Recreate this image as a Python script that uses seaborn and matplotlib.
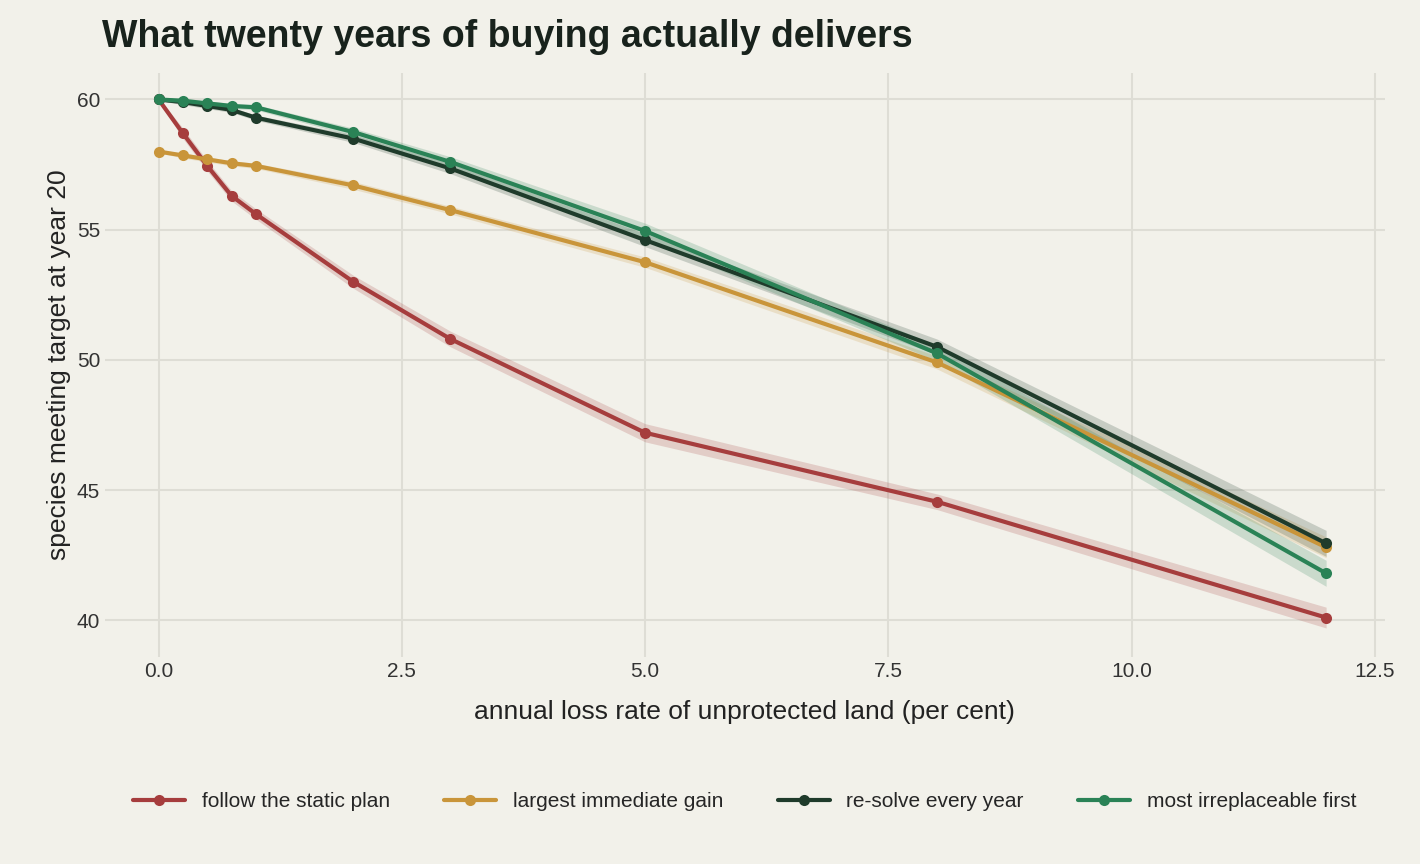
import numpy as np
import pandas as pd
import seaborn as sns
import matplotlib.pyplot as plt

# loss rates (per cent per year)
loss_rate = [0, 0.25, 0.5, 0.75, 1, 2, 3, 5, 8, 12]

static_plan = [60, 58.7, 57.45, 56.3, 55.6, 53.0, 50.8, 47.2, 44.55, 40.1]
greedy_gain = [58.0, 57.85, 57.7, 57.55, 57.45, 56.7, 55.75, 53.75, 49.9, 42.8]
resolve_yearly = [60, 59.9, 59.75, 59.6, 59.3, 58.5, 57.35, 54.6, 50.5, 42.95]
irreplaceable = [60, 59.95, 59.85, 59.75, 59.7, 58.75, 57.6, 54.95, 50.25, 41.8]

# uncertainty half-widths
static_band = [0.05, 0.2, 0.2, 0.2, 0.2, 0.25, 0.3, 0.35, 0.3, 0.4]
greedy_band = [0.05, 0.1, 0.1, 0.1, 0.1, 0.15, 0.15, 0.2, 0.25, 0.4]
resolve_band = [0.05, 0.1, 0.1, 0.1, 0.1, 0.15, 0.2, 0.25, 0.3, 0.5]
irrep_band = [0.05, 0.1, 0.1, 0.1, 0.1, 0.15, 0.2, 0.3, 0.3, 0.5]

labels = ['follow the static plan', 'largest immediate gain',
          're-solve every year', 'most irreplaceable first']
colors = ['#a63d3d', '#c9953a', '#1f3b2b', '#2a8256']

series = [static_plan, greedy_gain, resolve_yearly, irreplaceable]
bands = [static_band, greedy_band, resolve_band, irrep_band]

rows = []
for lab, ys in zip(labels, series):
    for x, y in zip(loss_rate, ys):
        rows.append({'rate': x, 'species': y, 'strategy': lab})
df = pd.DataFrame(rows)

bg = '#f2f1ea'
sns.set_theme(style='whitegrid', rc={'axes.facecolor': bg, 'figure.facecolor': bg,
                                     'grid.color': '#deddd5', 'grid.linewidth': 1.5})
plt.rcParams['font.family'] = ['Liberation Sans', 'DejaVu Sans']

fig, ax = plt.subplots(figsize=(14.2, 8.64), dpi=100)
fig.subplots_adjust(left=0.074, right=0.975, top=0.915, bottom=0.24)

for lab, ys, bw, c in zip(labels, series, bands, colors):
    ys = np.array(ys)
    bw = np.array(bw)
    ax.fill_between(loss_rate, ys - bw, ys + bw, color=c, alpha=0.2, lw=0)

sns.lineplot(data=df, x='rate', y='species', hue='strategy', palette=colors,
             marker='o', markersize=8, markeredgewidth=0, linewidth=3, ax=ax)

ax.set_xlim(-0.55, 12.6)
ax.set_ylim(38.6, 61.0)
ax.set_xticks([0, 2.5, 5, 7.5, 10, 12.5])
ax.set_xticklabels(['0.0', '2.5', '5.0', '7.5', '10.0', '12.5'])
ax.set_yticks([40, 45, 50, 55, 60])
ax.tick_params(labelsize=15, colors='#333333', length=0)
for s in ax.spines.values():
    s.set_visible(False)
ax.set_xlabel('annual loss rate of unprotected land (per cent)', fontsize=19,
              color='#222222', labelpad=14)
ax.set_ylabel('species meeting target at year 20', fontsize=19, color='#222222')
fig.text(0.072, 0.957, 'What twenty years of buying actually delivers', fontsize=27,
         fontweight='bold', color='#18221c', va='center')

ax.legend(loc='upper center', bbox_to_anchor=(0.5, -0.2), ncol=4, frameon=False,
          fontsize=15, handlelength=2.5, columnspacing=2.6)

fig.savefig('out.png', dpi=100, facecolor=bg)
